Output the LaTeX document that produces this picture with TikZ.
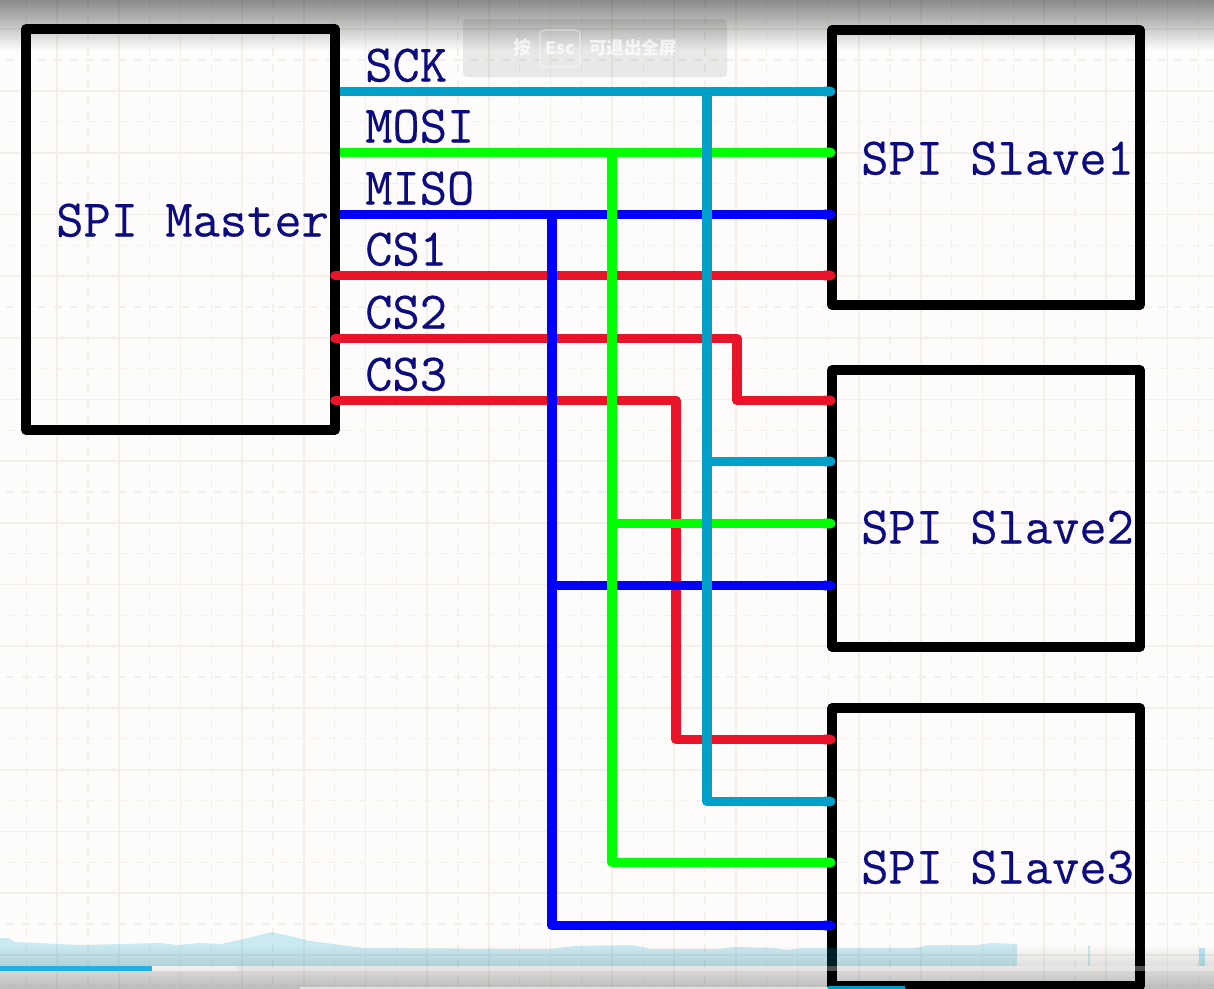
\documentclass[tikz,border=0pt]{standalone}
\usepackage{fontspec}
\newfontfamily\cjkfont{Noto Sans CJK SC}
\newfontfamily\labelfont[FakeBold=0.35]{Latin Modern Mono}
\usetikzlibrary{fadings,arrows.meta}
\definecolor{paper}{HTML}{FEFCFA}
\definecolor{gridc}{HTML}{F3F0EC}
\definecolor{navytext}{HTML}{0C0C80}
\definecolor{sckc}{HTML}{00A0C8}
\definecolor{mosic}{HTML}{00FF00}
\definecolor{misoc}{HTML}{0000FF}
\definecolor{csc}{HTML}{EA142A}
\definecolor{barc}{HTML}{20B0E8}
\tikzset{
  x=0.75pt,y=-0.75pt,
  blockbox/.style={draw=black,line width=7pt,fill=none,inner sep=0pt,outer sep=0pt,line join=round},
  boxlabel/.style={text=navytext,font=\labelfont\fontsize{39.7}{41}\selectfont,inner sep=0pt,anchor=base west},
  wire/.style={line width=7.2pt,line join=round,line cap=butt,-{Round Cap[]}},
  sckw/.style={wire,draw=sckc},
  mosiw/.style={wire,draw=mosic},
  misow/.style={wire,draw=misoc},
  csw/.style={wire,draw=csc,line cap=round},
  gridsolid/.style={draw=gridc,line width=1.3pt},
  griddash/.style={draw=gridc,line width=1pt,dash pattern=on 6pt off 6pt},
  toasttext/.style={text=white,opacity=.72,inner sep=0pt},
}
\begin{document}
\begin{tikzpicture}
\useasboundingbox (0,0) rectangle (1214,989);
\fill[paper] (0,0) rectangle (1214,989);
% grid
\foreach \i in {0,...,19}{
  \draw[gridsolid] ({-4.7+61.7*\i},0) -- ({-4.7+61.7*\i},989);
  \draw[griddash] ({26.2+61.7*\i},0) -- ({26.2+61.7*\i},989);
}
\foreach \i in {0,...,16}{
  \draw[gridsolid] (0,{29.3+61.7*\i}) -- (1214,{29.3+61.7*\i});
  \draw[griddash] (1214,{60.1+61.7*\i}) -- (0,{60.1+61.7*\i});
}
% blocks
\node[blockbox,minimum width=231.75pt,minimum height=300.75pt,anchor=north west] (master) at (26,29) {};
\node[blockbox,minimum width=231pt,minimum height=206.25pt,anchor=north west] (slavea) at (832,30) {};
\node[blockbox,minimum width=231pt,minimum height=207.75pt,anchor=north west] (slaveb) at (832,370) {};
\node[blockbox,minimum width=231pt,minimum height=208.5pt,anchor=north west] (slavec) at (832,708) {};
% wire anchor points
\coordinate (mSCK) at (340,91.5);
\coordinate (mMOSI) at (340,152.5);
\coordinate (mMISO) at (340,214.5);
\coordinate (mCSa) at (335,275.5);
\coordinate (mCSb) at (335,338.5);
\coordinate (mCSc) at (335,400.5);
\coordinate (aSCK) at (835.5,91.5);
\coordinate (aMOSI) at (835.5,152.5);
\coordinate (aMISO) at (835.5,214.5);
\coordinate (aCS) at (835.5,275.5);
\coordinate (bCS) at (835.5,400.5);
\coordinate (bSCK) at (835.5,461.5);
\coordinate (bMOSI) at (835.5,523.5);
\coordinate (bMISO) at (835.5,585.5);
\coordinate (cCS) at (835.5,739.5);
\coordinate (cSCK) at (835.5,801.5);
\coordinate (cMOSI) at (835.5,862.5);
\coordinate (cMISO) at (835.5,925.5);
\coordinate (vSCK) at (707,0);
\coordinate (vMOSI) at (612,0);
\coordinate (vMISO) at (552,0);
\coordinate (vCSb) at (737,0);
\coordinate (vCSc) at (676,0);
% wires, lowest first
\draw[csw] (mCSa) -- (aCS);
\draw[csw] (mCSb) -- (vCSb |- mCSb) -- (vCSb |- bCS) -- (bCS);
\draw[csw] (mCSc) -- (vCSc |- mCSc) -- (vCSc |- cCS) -- (cCS);
\draw[misow] (mMISO) -- (aMISO);
\draw[misow] (vMISO |- mMISO) -- (vMISO |- cMISO) -- (cMISO);
\draw[misow] (vMISO |- bMISO) -- (bMISO);
\draw[mosiw] (mMOSI) -- (aMOSI);
\draw[mosiw] (vMOSI |- mMOSI) -- (vMOSI |- cMOSI) -- (cMOSI);
\draw[mosiw] (vMOSI |- bMOSI) -- (bMOSI);
\draw[sckw] (mSCK) -- (aSCK);
\draw[sckw] (vSCK |- mSCK) -- (vSCK |- cSCK) -- (cSCK);
\draw[sckw] (vSCK |- bSCK) -- (bSCK);
% labels
\node[boxlabel] (tmaster) at (56,236.5) {SPI Master};
\node[boxlabel] (ta) at (861,174.5) {SPI Slave1};
\node[boxlabel] (tb) at (861,543.5) {SPI Slave2};
\node[boxlabel] (tc) at (861,883.5) {SPI Slave3};
\node[boxlabel] (tsck) at (365,81.5) {SCK};
\node[boxlabel] (tmosi) at (365,142.5) {MOSI};
\node[boxlabel] (tmiso) at (365,204.5) {MISO};
\node[boxlabel] (tcsa) at (365,265.5) {CS1};
\node[boxlabel] (tcsb) at (365,328.5) {CS2};
\node[boxlabel] (tcsc) at (365,390.5) {CS3};
% player overlay
\fill[black,path fading=south,fill opacity=.45] (0,0) rectangle (1214,50);
\fill[black,path fading=north,fill opacity=.25] (0,945) rectangle (1214,989);
\fill[sckc,opacity=.2] (0,966) -- (0,938) -- (8,938) -- (15,942) -- (81,945) -- (159,943) -- (178,945) -- (198,943) -- (221,944) -- (248,938) -- (271,932) -- (290,936) -- (310,941) -- (364,948) -- (550,949) -- (574,946) -- (632,945) -- (651,949) -- (717,949) -- (736,947) -- (775,948) -- (787,950) -- (802,948) -- (915,948) -- (930,945) -- (977,945) -- (992,943) -- (1017,944) -- (1017,966) -- cycle;
\fill[sckc,opacity=.2] (1088,945) rectangle (1090,966);
\fill[sckc,opacity=.25] (1199,948) rectangle (1205,966);
\fill[white,opacity=.6] (152,966) rectangle (237,971);
\fill[white,opacity=.3] (237,966) rectangle (1214,971);
\fill[barc] (0,966) rectangle (152,971);
\fill[white,opacity=.55] (300,987) rectangle (828,989);
\fill[sckc] (828,986) rectangle (905,989);
% toast
\fill[black,opacity=.08,rounded corners=3pt] (463,19) rectangle (727,77);
\draw[white,opacity=.5,line width=.8pt,rounded corners=3pt] (540,30) rectangle (580,67);
\node[toasttext,font=\cjkfont\bfseries\fontsize{13.5}{15}\selectfont] (tpress) at (522,48) {按};
\node[toasttext,font=\cjkfont\bfseries\fontsize{13}{15}\selectfont] (tesc) at (560,48) {Esc};
\node[toasttext,font=\cjkfont\bfseries\fontsize{13.2}{15}\selectfont] (texit) at (633,48) {可退出全屏};
\end{tikzpicture}
\end{document}
